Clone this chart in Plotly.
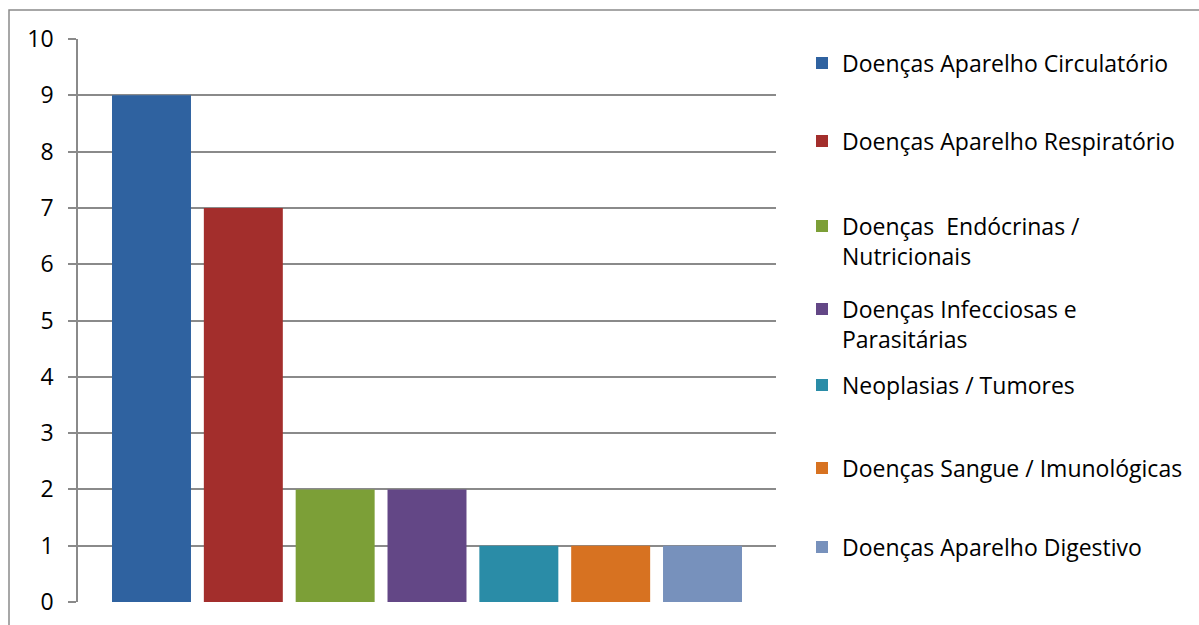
import plotly.graph_objects as go

# Causes of death grouped by disease category
categories = [
    "Doenças Aparelho Circulatório",
    "Doenças Aparelho Respiratório",
    "Doenças\u00a0 Endócrinas /<br>Nutricionais",
    "Doenças Infecciosas e<br>Parasitárias",
    "Neoplasias / Tumores",
    "Doenças Sangue / Imunológicas",
    "Doenças Aparelho Digestivo",
]
values = [9, 7, 2, 2, 1, 1, 1]
colors = ["#2f62a0", "#a32e2c", "#7c9f37", "#634786", "#2a8ca7", "#d77221", "#7791bc"]
y_ticks = list(range(0, 11))

W, H = 1199, 625
# legend item centres (px from top)
legend_centres = [63, 141, 241, 324, 385, 468, 547]

fig = go.Figure()
for i, (name, val, col) in enumerate(zip(categories, values, colors)):
    key = "legend" if i == 0 else f"legend{i + 1}"
    fig.add_trace(go.Bar(
        x=["Total"], y=[val], name=name,
        marker=dict(color=col, line=dict(width=0)),
        legend=key,
    ))

font = "'Open Sans', sans-serif"
legend_common = dict(
    xref="container", yref="container",
    x=802 / W, xanchor="left", yanchor="middle",
    bgcolor="rgba(0,0,0,0)", borderwidth=0,
    font=dict(family=font, size=23, color="#000000"),
    valign="top", itemclick=False,
)
layout_legends = {}
for i, c in enumerate(legend_centres):
    key = "legend" if i == 0 else f"legend{i + 1}"
    layout_legends[key] = dict(legend_common, y=1 - c / H)

fig.update_layout(
    width=W, height=H,
    margin=dict(l=78, r=W - 776, t=39, b=H - 602, autoexpand=False),
    paper_bgcolor="white", plot_bgcolor="white",
    barmode="group", bargap=0.079, bargroupgap=0.14,
    font=dict(family=font, color="#000000"),
    showlegend=True,
    xaxis=dict(showticklabels=False, ticks="", showgrid=False,
               showline=False, zeroline=False, automargin=False),
    yaxis=dict(range=[0, 10], tickvals=y_ticks, showgrid=True,
               gridcolor="#8a8a8a", gridwidth=1.5, zeroline=False,
               showline=True, linecolor="#8a8a8a", linewidth=1.5,
               ticks="outside", ticklen=8, tickcolor="#8a8a8a", tickwidth=1.5,
               ticklabelstandoff=10, automargin=False,
               tickfont=dict(family=font, size=23, color="#000000")),
    shapes=[dict(type="rect", xref="paper", yref="paper",
                 x0=(9 - 78) / 698, x1=(1210 - 78) / 698,
                 y0=-(640 - 602) / 563, y1=1 + (39 - 10) / 563,
                 line=dict(color="#8a8a8a", width=1.5), layer="below")],
    **layout_legends,
)

fig.write_html("out.html")
